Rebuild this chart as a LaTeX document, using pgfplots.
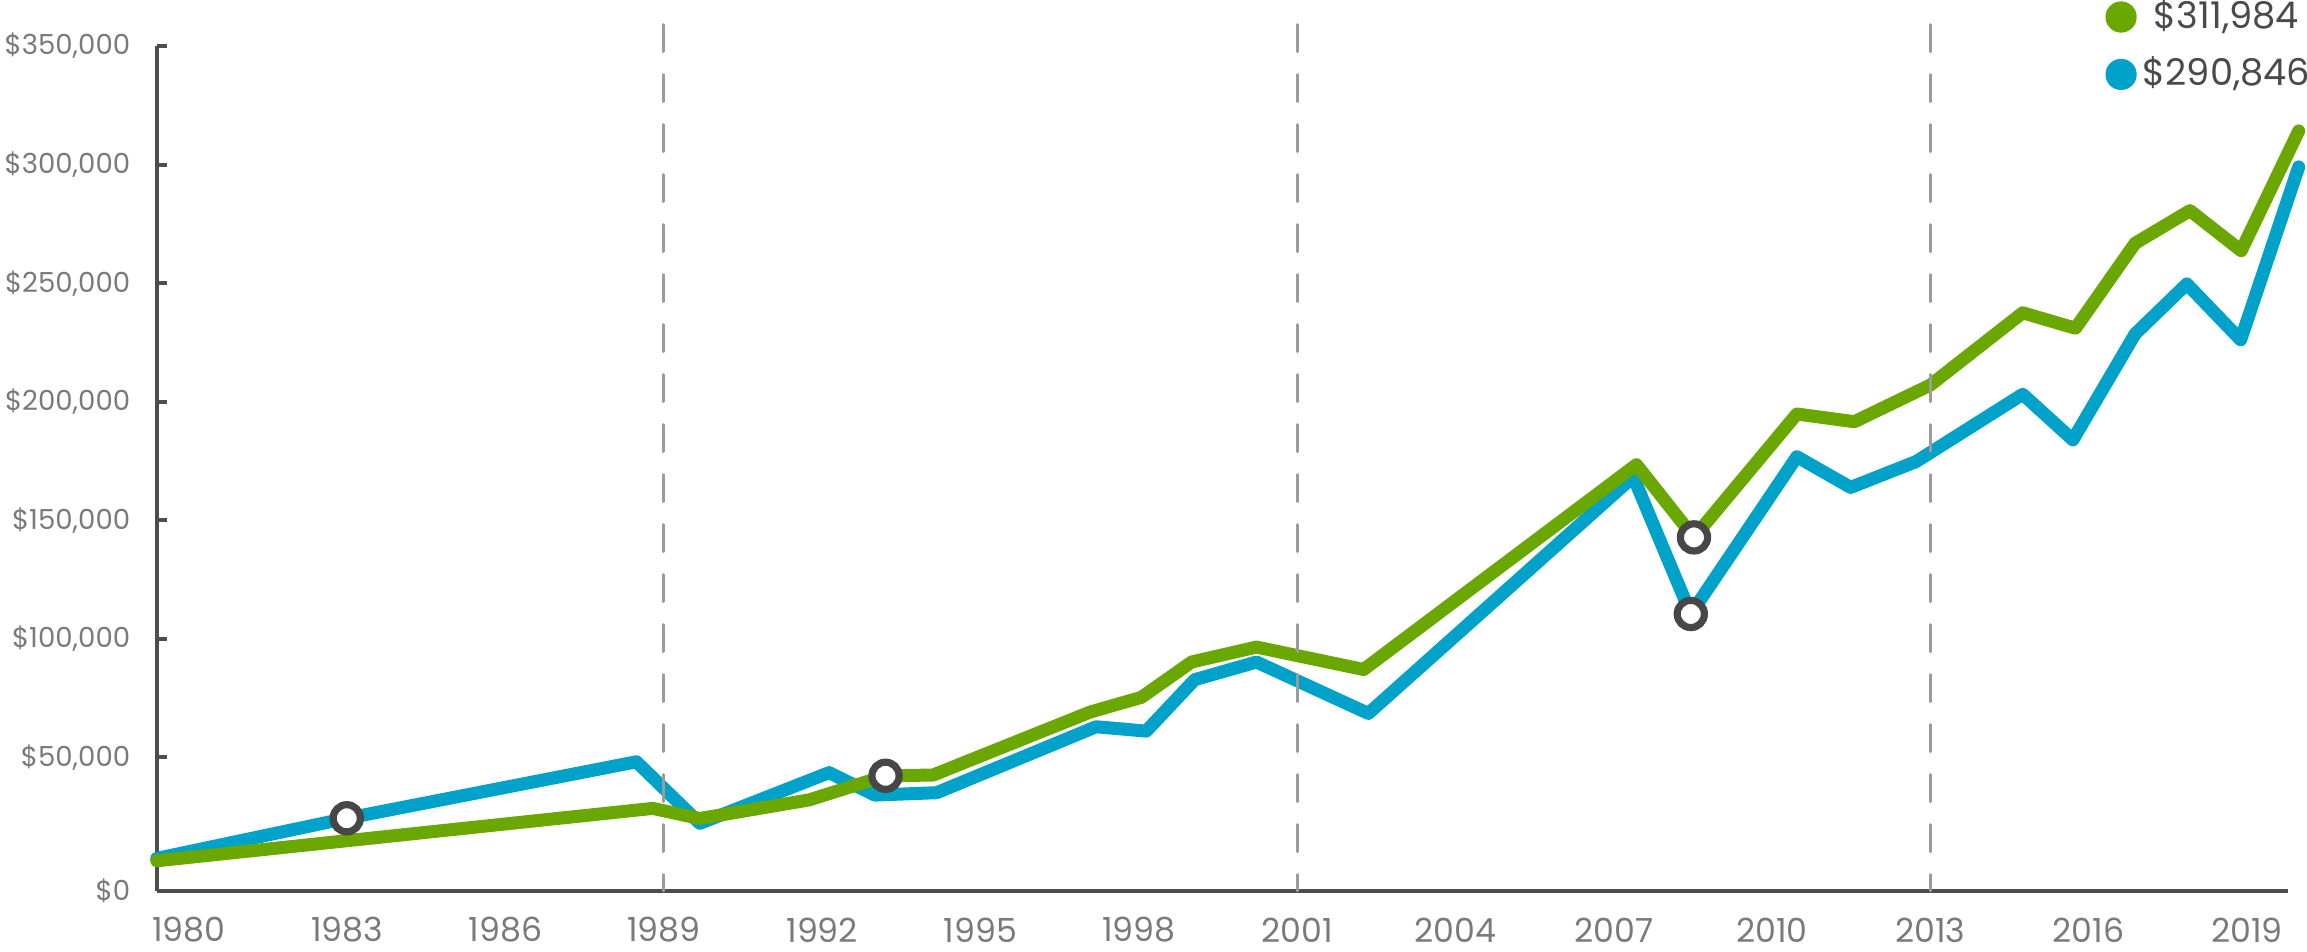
\documentclass[border=0pt]{standalone}
\usepackage{pgfplots}
\pgfplotsset{compat=1.18}
\usepackage{fontspec}
\setmainfont{Poppins}
\newfontfamily\legfont[Numbers=Proportional]{Poppins}

\definecolor{lgreen}{HTML}{6AA700}
\definecolor{lblue}{HTML}{00A2C9}
\definecolor{axgray}{HTML}{4D4D4D}
\definecolor{dashgray}{HTML}{9B9B9B}
\definecolor{labgray}{HTML}{7A7A7A}
\definecolor{legtext}{HTML}{4A4A4A}
\definecolor{ringgray}{HTML}{474747}

\begin{document}
\begin{tikzpicture}
% 1 px of the reference = 0.25pt; the x axis line sits a little below the $0 level
\begin{axis}[
    scale only axis,
    width=532.75pt, height=211.25pt,
    xmin=1979.394, xmax=2019.777,
    ymin=-6325, ymax=350000,
    scaled y ticks=false,
    clip=false,
    axis x line*=bottom, axis y line*=left,
    axis line style={axgray, line width=1.1pt},
    xtick={1980,1983,1986,1989,1992,1995,1998,2001,2004,2007,2010,2013,2016,2019},
    xticklabels={1980,1983,1986,1989,1992,1995,1998,2001,2004,2007,2010,2013,2016,2019},
    x tick style={draw=none},
    x tick label style={font=\fontsize{8.3}{9}\selectfont, text=labgray,
        anchor=center, inner sep=0pt, yshift=-9.75pt},
    ytick={-6325,50000,100000,150000,200000,250000,300000,350000},
    yticklabels={{\$0},{\$50,000},{\$100,000},{\$150,000},{\$200,000},{\$250,000},{\$300,000},{\$350,000}},
    y tick style={axgray, line width=1pt},
    tick align=inside, major tick length=2.5pt,
    y tick label style={font=\fontsize{6.9}{7.5}\selectfont, text=labgray,
        anchor=east, inner sep=0pt, xshift=-6.5pt},
    reverse legend,
    legend image code/.code={\fill (2.3pt,0pt) circle (2.3pt);},
    legend cell align=center,
    legend style={at={(rel axis cs:0.9143,1.055)}, anchor=north west,
        draw=none, fill=none, inner sep=0pt, outer sep=0pt,
        row sep=5.6pt, column sep=1.5pt,
        font=\legfont\fontsize{9.2}{10}\selectfont, text=legtext,
        nodes={inner sep=0pt}},
]
\coordinate (O) at (rel axis cs:0,0);

% blue series
\addplot[lblue, line width=3.25pt, line join=round, line cap=round] coordinates {
    (1979.39, 7424) (1982.99, 24330) (1988.48, 48162) (1989.68, 22191)
    (1992.13, 43579) (1993.00, 34107) (1994.17, 35126) (1997.19, 62929)
    (1998.14, 61096) (1999.06, 82789) (2000.23, 90223) (2002.35, 68530)
    (2007.37, 168337) (2008.46, 110490) (2010.47, 176790) (2011.49, 163856)
    (2012.73, 174753) (2014.75, 203130) (2015.70, 183900) (2016.88, 228560)
    (2017.86, 249650) (2018.88, 226070) (2019.98, 298999)
};
\addlegendentry{\$290,846}

% green series
\addplot[lgreen, line width=3.25pt, line join=round, line cap=round] coordinates {
    (1979.39, 6405) (1988.79, 28506) (1989.68, 24228) (1991.75, 32070)
    (1993.20, 42255) (1994.10, 42560) (1997.08, 69141) (1998.05, 75354)
    (1999.00, 90223) (2000.23, 96537) (2002.26, 87066) (2007.43, 173430)
    (2008.52, 142775) (2010.47, 194817) (2011.56, 191558) (2013.00, 207038)
    (2014.75, 237490) (2015.75, 230972) (2016.88, 266821) (2017.92, 280570)
    (2018.89, 263664) (2019.98, 314178)
};
\addlegendentry{\$311,984}

% period separators
\addplot[dashgray, line width=0.75pt, dash pattern=on 6.75pt off 5.75pt, line cap=round, forget plot]
    coordinates {(1989,359000) (1989,-6325)};
\addplot[dashgray, line width=0.75pt, dash pattern=on 6.75pt off 5.75pt, line cap=round, forget plot]
    coordinates {(2001,359000) (2001,-6325)};
\addplot[dashgray, line width=0.75pt, dash pattern=on 6.75pt off 5.75pt, line cap=round, forget plot]
    coordinates {(2013,359000) (2013,-6325)};

% highlighted points
\addplot[only marks, mark=*, mark size=3.4pt,
    mark options={fill=white, draw=ringgray, line width=1.8pt}, forget plot]
    coordinates {(1982.99, 24330) (1993.20, 42255) (2008.52, 142775) (2008.46, 110490)};
\end{axis}
\pgfresetboundingbox
\path[use as bounding box] (O) ++(-39.25pt,-15.25pt) rectangle ++(576.75pt,238pt);
\end{tikzpicture}
\end{document}
